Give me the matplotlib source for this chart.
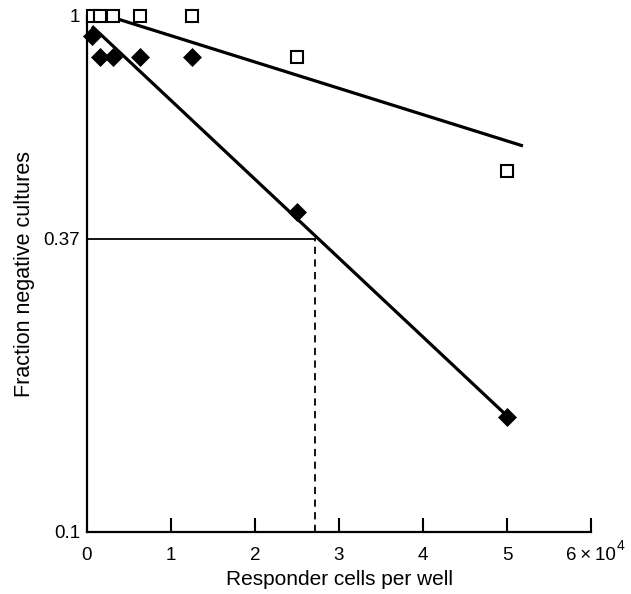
import matplotlib
matplotlib.use("Agg")
import matplotlib.pyplot as plt
import numpy as np

plt.rcParams['font.family'] = ['Liberation Sans', 'DejaVu Sans']

# Data (x in units of 10^4 responder cells per well)
x_open = [0.07, 0.16, 0.31, 0.625, 1.25, 2.5, 5.0]
y_open = [1.0, 1.0, 1.0, 1.0, 1.0, 0.833, 0.50]
x_filled = [0.06, 0.156, 0.3125, 0.625, 1.25, 2.5, 5.0]
y_filled = [0.915, 0.833, 0.833, 0.833, 0.833, 0.417, 0.167]

# Fitted lines (endpoints)
fit_open_x = [0.38, 5.19]
fit_open_y = [0.985, 0.56]
fit_filled_x = [0.06, 5.05]
fit_filled_y = [0.955, 0.165]

# Reference 37% point
x37 = 2.71
y37 = 0.37

xticks = [0, 1, 2, 3, 4, 5, 6]
xticklabels = ['0', '1', '2', '3', '4', '5', '6\u2009\u00d7\u200910']
x_exponent = '4'
yticks = [0.1, 0.37, 1.0]
yticklabels = ['0.1', '0.37', '1']

fig = plt.figure(figsize=(6.31, 5.94), dpi=100)
ax = fig.add_axes([87/631, 1-532/594, 504/631, 516/594])
ax.set_yscale('log')
ax.set_xlim(0, 6)
ax.set_ylim(0.1, 1.0)

ax.plot(fit_open_x, fit_open_y, color='black', lw=2.3, solid_capstyle='butt', zorder=2)
ax.plot(fit_filled_x, fit_filled_y, color='black', lw=2.3, solid_capstyle='butt', zorder=2)

ax.plot([0, x37], [y37, y37], color='black', lw=1.3, zorder=2)
ax.plot([x37, x37], [0.1, y37], color='black', lw=1.3, ls=(0, (4, 3)), zorder=2)

ax.plot(x_open, y_open, ls='none', marker='s', ms=9, mfc='white', mec='black',
        mew=1.5, clip_on=False, zorder=3)
ax.plot(x_filled, y_filled, ls='none', marker='D', ms=9.3, mfc='black', mec='black',
        mew=0.5, clip_on=False, zorder=4)

for s in ['top', 'right']:
    ax.spines[s].set_visible(False)
for s in ['left', 'bottom']:
    ax.spines[s].set_linewidth(1.6)

ax.set_xticks(xticks)
ax.set_xticklabels(xticklabels)
ax.set_yticks(yticks)
ax.set_yticklabels(yticklabels)
ax.minorticks_off()
ax.tick_params(axis='x', direction='in', length=10, width=1.5, pad=11, labelsize=13.5)
ax.tick_params(axis='y', length=0, pad=5, labelsize=13.5)
# hide the tick at 0 (coincides with spine)
ax.xaxis.get_major_ticks()[0].tick1line.set_visible(False)

# superscript exponent for the last x tick label
ax.annotate(x_exponent, xy=(xticks[-1], 0), xycoords=('data', 'axes fraction'),
            xytext=(18.5, -10), textcoords='offset points', fontsize=10,
            ha='left', va='center', annotation_clip=False)

ax.set_xlabel('Responder cells per well', fontsize=15, labelpad=4)
ax.set_ylabel('Fraction negative cultures', fontsize=15.5, labelpad=6)

fig.savefig('out.png', dpi=100)
